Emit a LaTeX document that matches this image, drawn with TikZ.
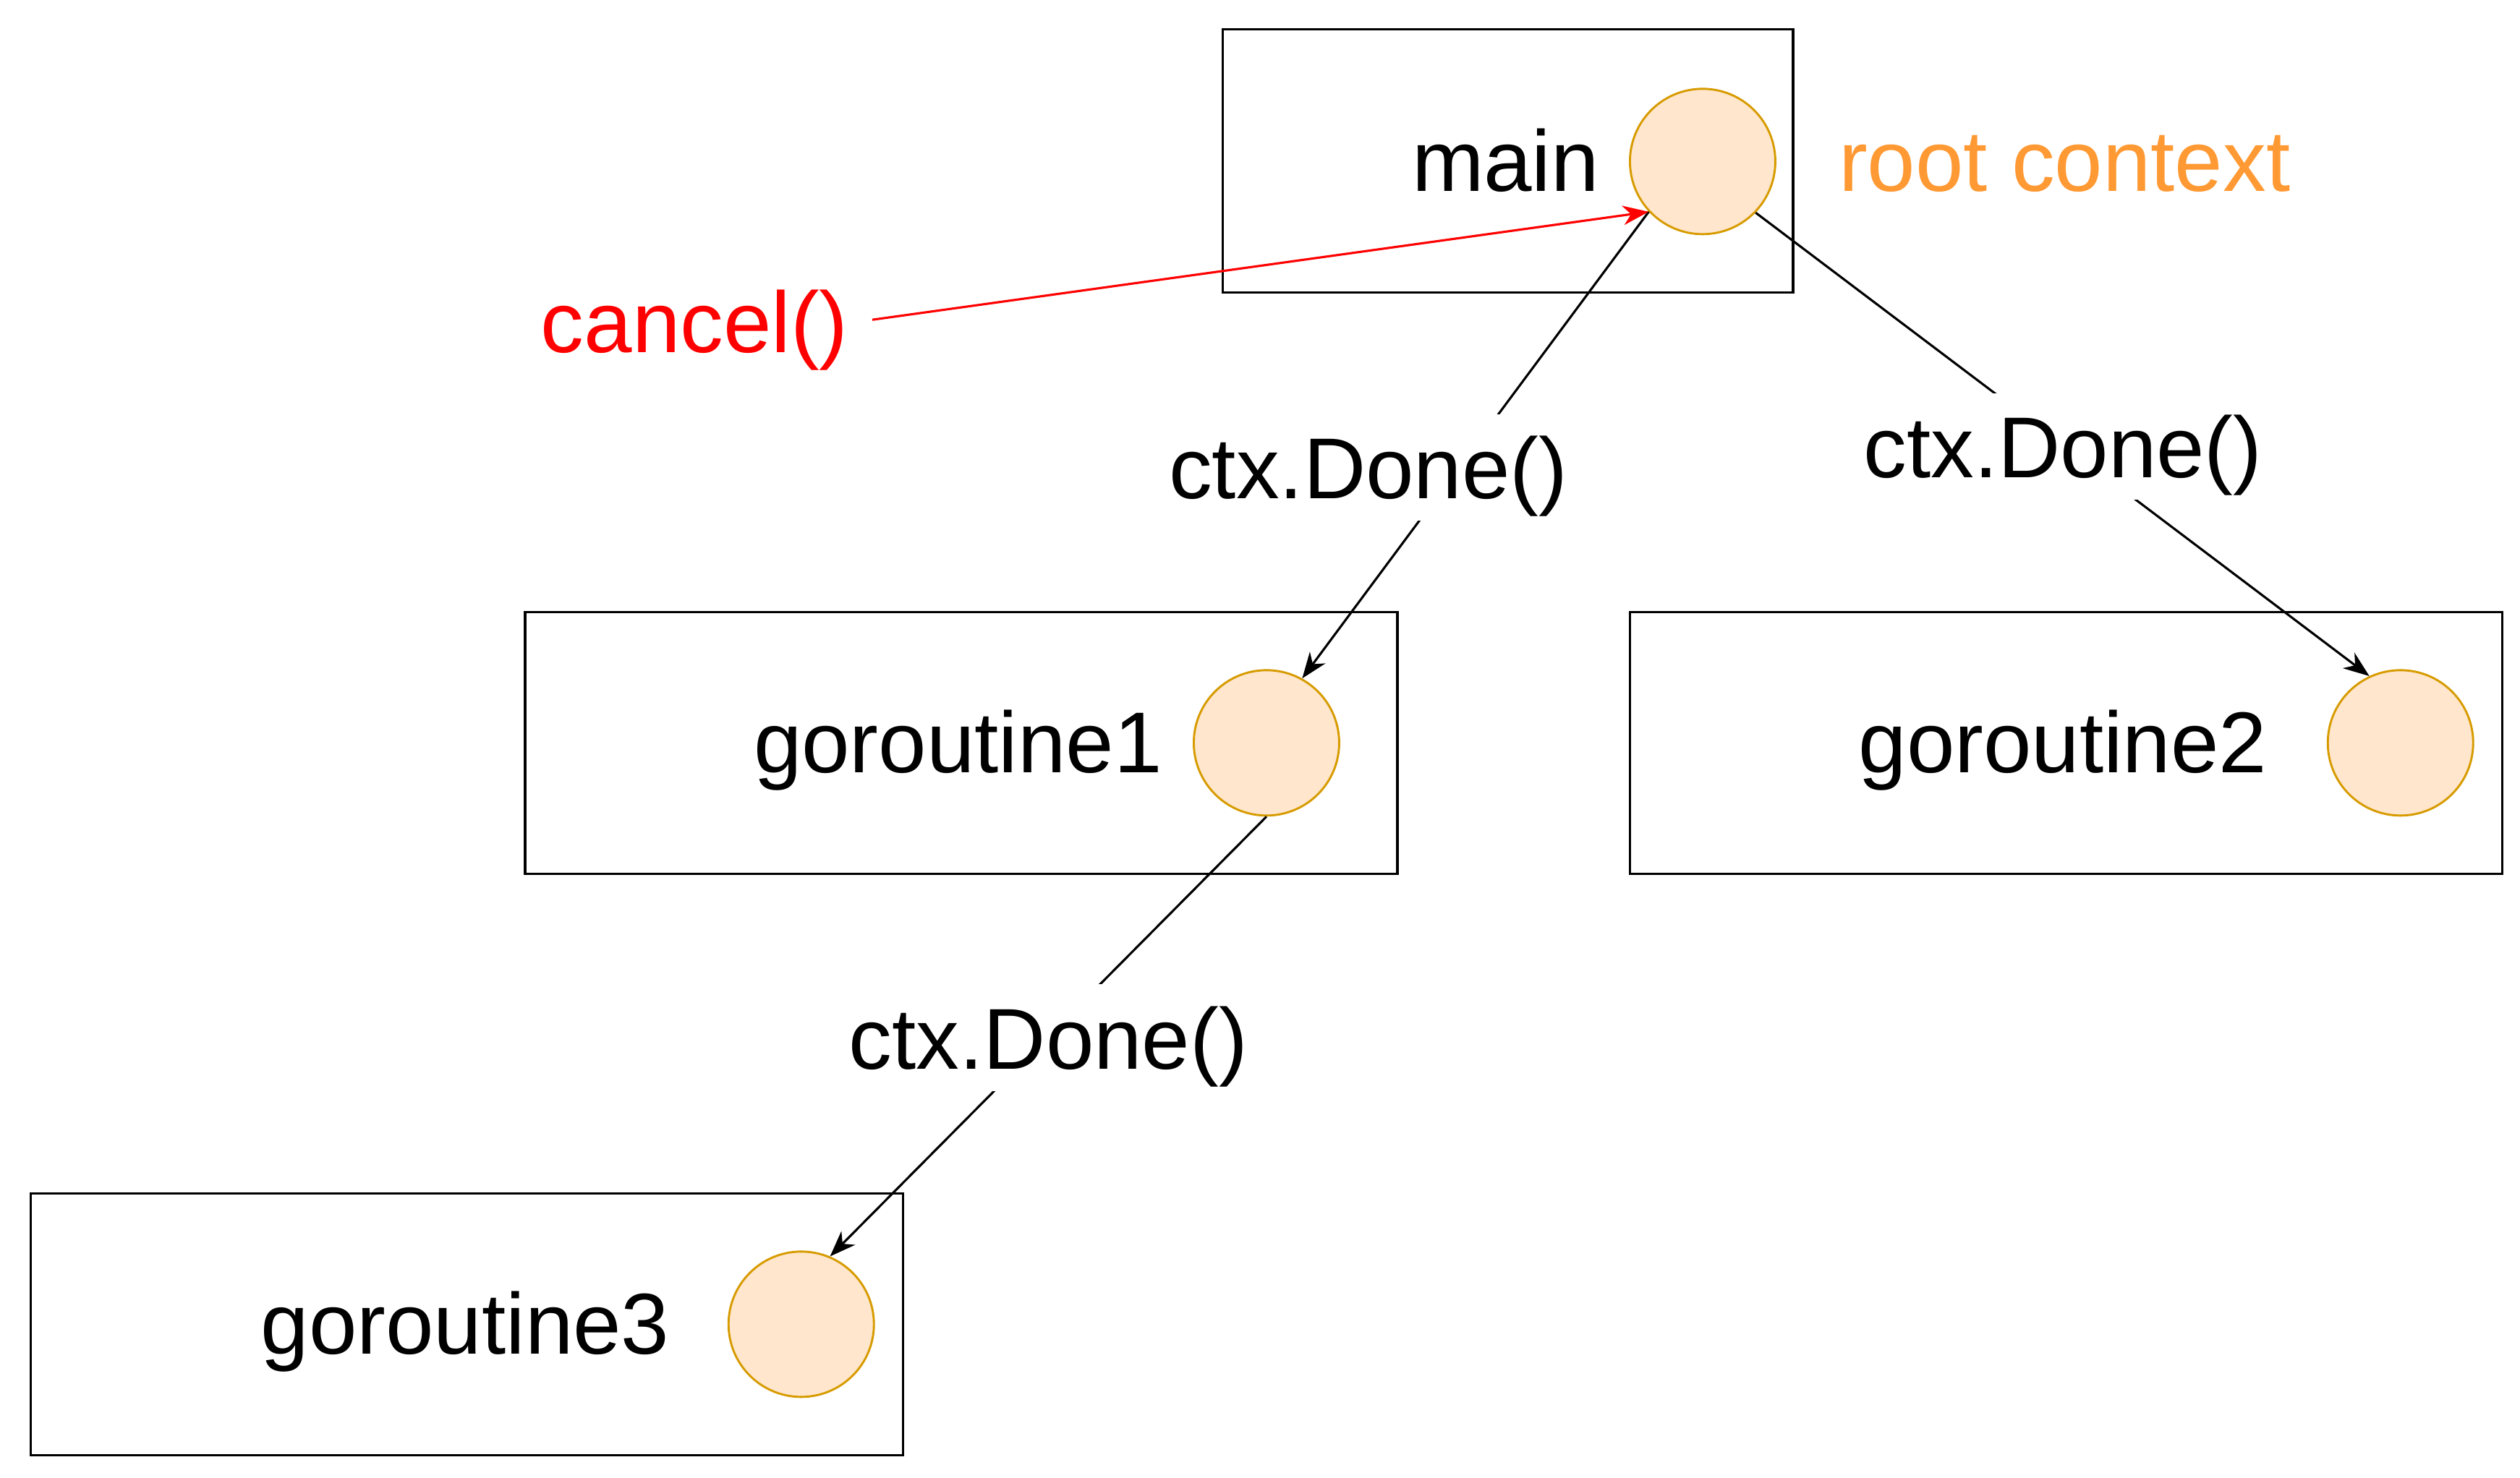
\documentclass[tikz,border=0pt]{standalone}
\usepackage{fontspec}
\setmainfont{Liberation Sans}
\usetikzlibrary{arrows.meta}
\definecolor{ctxfill}{HTML}{FFE6CC}
\definecolor{ctxdraw}{HTML}{D79B00}
\definecolor{rootorange}{HTML}{FF9933}
\begin{document}
\begin{tikzpicture}[x=1pt,y=-1pt,
  box/.style={draw=black,line width=1.5pt},
  ctxc/.style={circle,draw=ctxdraw,fill=ctxfill,line width=1.3pt,minimum size=90pt,inner sep=0pt},
  txt/.style={font=\fontsize{53.5}{64}\selectfont,anchor=base,inner sep=0pt},
  lbl/.style={font=\fontsize{53.5}{64}\selectfont,fill=white,inner xsep=3pt,inner ysep=0pt,minimum height=66pt,text depth=0pt},
  conn/.style={draw=black,line width=1.4pt,-{Stealth[length=16pt,width=12pt,inset=5pt]}},
  redconn/.style={draw=red,line width=1.4pt,-{Stealth[length=16pt,width=12pt,inset=5pt]}}
]
\useasboundingbox (0,0) rectangle (1560,915);
\fill[white] (0,0) rectangle (1560,915);

% boxes
\draw[box] (757,18) rectangle (1110,181);
\draw[box] (325,379) rectangle (865,541);
\draw[box] (1009,379) rectangle (1549,541);
\draw[box] (19,739) rectangle (559,901);

% circles
\node[ctxc] (mc) at (1054,100) {};
\node[ctxc] (g1c) at (784,460) {};
\node[ctxc] (g2c) at (1486,460) {};
\node[ctxc] (g3c) at (496,820) {};

% texts
\node[txt] (tmain) at (932,118.5) {main};
\node[txt,text=rootorange] (troot) at (1278,118.5) {root context};
\node[txt,text=red] (tcancel) at (430,218.5) {cancel()};
\node[txt] (tg1) at (593,478.5) {goroutine1};
\node[txt] (tg2) at (1277,478.5) {goroutine2};
\node[txt] (tg3) at (288,838.5) {goroutine3};

\coordinate (cstart) at (540,198);

% connectors
\draw[conn] (mc.-137) -- (g1c.61);
\draw[conn] (mc.-44) -- (g2c.115);
\draw[conn] (g1c.-90) -- (g3c.67);
\draw[redconn] (cstart) -- (mc.-137);

% connector labels
\node[lbl] (l1) at (847,289.5) {ctx.Done()};
\node[lbl] (l2) at (1277,276.5) {ctx.Done()};
\node[lbl] (l3) at (649,642.5) {ctx.Done()};
\end{tikzpicture}
\end{document}
